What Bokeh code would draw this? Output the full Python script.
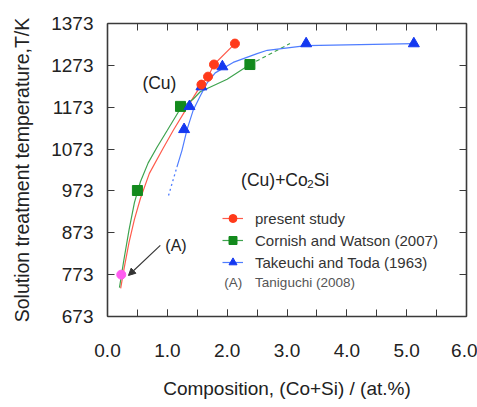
from bokeh.plotting import figure
from bokeh.models import (LinearAxis, FixedTicker, SingleIntervalTicker, NumeralTickFormatter,
                          Label, Arrow, NormalHead, Legend, LegendItem)
from bokeh.embed import file_html
from bokeh.resources import INLINE

# ---------------- data ----------------
# present study
present_x = [1.57, 1.68, 1.78, 2.13]
present_y = [1227, 1246, 1275, 1325]
present_curve_x = [0.22, 0.28, 0.36, 0.45, 0.55, 0.70, 0.93, 1.10, 1.33, 1.45, 1.57, 1.68, 1.78, 2.13]
present_curve_y = [740, 790, 850, 905, 955, 1015, 1075, 1118, 1172, 1200, 1227, 1246, 1275, 1325]

# Cornish and Watson (2007)
cornish_x = [0.50, 1.22, 2.38]
cornish_y = [974, 1175, 1275]
cornish_curve_x = [0.20, 0.27, 0.36, 0.45, 0.55, 0.68, 0.83, 1.00, 1.22, 1.43, 1.55, 2.00, 2.38]
cornish_curve_y = [742, 805, 880, 945, 995, 1040, 1078, 1118, 1170, 1192, 1210, 1240, 1275]
cornish_dash_x = [2.38, 3.05]
cornish_dash_y = [1275, 1325]

# Takeuchi and Toda (1963)
takeuchi_x = [1.28, 1.37, 1.57, 1.92, 3.32, 5.12]
takeuchi_y = [1120, 1175, 1222, 1270, 1325, 1325]
takeuchi_dot_x = [1.02, 1.16]
takeuchi_dot_y = [962, 1030]
takeuchi_curve_x = [1.16, 1.245, 1.33, 1.43, 1.55, 1.66, 1.80, 2.10, 2.50, 2.67, 3.32, 5.12]
takeuchi_curve_y = [1030, 1070, 1120, 1165, 1200, 1230, 1255, 1280, 1301, 1309, 1320, 1325]

# Taniguchi (2008)
taniguchi_x = [0.23]
taniguchi_y = [773]

y_ticks = [673, 773, 873, 973, 1073, 1173, 1273, 1373]

FONT = "Liberation Sans"
AX = "#3a3a3a"

p = figure(x_range=(0, 6), y_range=(673, 1373),
           frame_width=359, frame_height=293,
           min_border_left=107, min_border_right=11, min_border_top=23, min_border_bottom=91,
           output_backend="svg", toolbar_location=None, background_fill_color="white")
p.grid.visible = False
p.outline_line_color = None

# bottom axis
xa = p.xaxis[0]
xa.ticker = SingleIntervalTicker(interval=1, num_minor_ticks=2)
xa.formatter = NumeralTickFormatter(format="0.0")
xa.major_tick_in = 7; xa.major_tick_out = 0
xa.minor_tick_in = 7; xa.minor_tick_out = 0
xa.major_label_standoff = 27
xa.major_label_text_font = FONT
xa.major_label_text_font_size = "19px"
xa.major_label_text_color = "#222222"
xa.axis_label = "Composition, (Co+Si) / (at.%)"
xa.axis_label_text_font = FONT
xa.axis_label_text_font_style = "normal"
xa.axis_label_text_font_size = "19px"
xa.axis_label_text_color = "#222222"
xa.axis_label_standoff = 18
xa.axis_line_color = AX; xa.axis_line_width = 1.6
xa.major_tick_line_color = AX; xa.minor_tick_line_color = AX

# left axis
ya = p.yaxis[0]
ya.ticker = FixedTicker(ticks=y_ticks)
ya.major_tick_in = 7; ya.major_tick_out = 0
ya.minor_tick_line_color = None
ya.major_label_standoff = 14
ya.major_label_text_font = FONT
ya.major_label_text_font_size = "19px"
ya.major_label_text_color = "#222222"
ya.axis_label = "Solution treatment temperature,T/K"
ya.axis_label_text_font = FONT
ya.axis_label_text_font_style = "normal"
ya.axis_label_text_font_size = "19.5px"
ya.axis_label_text_color = "#222222"
ya.axis_label_standoff = 15
ya.axis_line_color = AX; ya.axis_line_width = 1.6
ya.major_tick_line_color = AX

# top and right axes (ticks only)
top = LinearAxis(ticker=SingleIntervalTicker(interval=0.5, num_minor_ticks=0))
top.major_label_overrides = {v / 2: "" for v in range(0, 13)}
right = LinearAxis(ticker=FixedTicker(ticks=y_ticks))
right.major_label_overrides = {v: "" for v in y_ticks}
for a in (top, right):
    a.major_tick_in = 7; a.major_tick_out = 0
    a.minor_tick_line_color = None
    a.major_label_standoff = 0
    a.major_label_text_font_size = "1px"
    a.axis_line_color = AX; a.axis_line_width = 1.6
    a.major_tick_line_color = AX
p.add_layout(top, "above")
p.add_layout(right, "right")

# curves
RED_L, GRN_L, BLU_L = "#ff5b4c", "#3fa34f", "#4f7dff"
r_line = p.line(present_curve_x, present_curve_y, line_color=RED_L, line_width=1.2)
g_line = p.line(cornish_curve_x, cornish_curve_y, line_color=GRN_L, line_width=1.2)
p.line(cornish_dash_x, cornish_dash_y, line_color=GRN_L, line_width=1.2, line_dash="4 3")
p.line(takeuchi_dot_x, takeuchi_dot_y, line_color=BLU_L, line_width=1.3, line_dash="2 3")
b_line = p.line(takeuchi_curve_x, takeuchi_curve_y, line_color=BLU_L, line_width=1.2)

# markers
g_pts = p.scatter(cornish_x, cornish_y, marker="square", size=10, fill_color="#138a1d",
                  line_color="#138a1d")
b_pts = p.scatter(takeuchi_x, takeuchi_y, marker="triangle", size=11, fill_color="#1438f0",
                  line_color="#1438f0")
r_pts = p.scatter(present_x, present_y, marker="circle", size=9, fill_color="#ff3a1a",
                  line_color="#ff3a1a")
p.scatter(taniguchi_x, taniguchi_y, marker="circle", size=9, fill_color="#ff5cf0",
          line_color="#ff5cf0")

# legend
leg = Legend(items=[LegendItem(label="present study", renderers=[r_line, r_pts]),
                    LegendItem(label="Cornish and Watson (2007)", renderers=[g_line, g_pts]),
                    LegendItem(label="Takeuchi and Toda (1963)", renderers=[b_line, b_pts])],
             location=(115, 44), glyph_width=21, glyph_height=20, label_height=20,
             label_standoff=12, spacing=2, padding=0, margin=0,
             border_line_color=None, background_fill_alpha=0,
             label_text_font=FONT, label_text_font_size="15px", label_text_color="#333333")
p.add_layout(leg, "center")

def lab(x, y, t, size, color="#222222", style="normal"):
    p.add_layout(Label(x=x, y=y, text=t, text_font=FONT,
                       text_font_size=size, text_color=color, text_font_style=style,
                       text_align="left", text_baseline="middle"))

lab(1.95, 754, "(A)", "13.5px", color="#555555")
lab(2.467, 754, "Taniguchi (2008)", "13.5px", color="#555555")

# region labels
lab(0.583, 1232, "(Cu)", "17.5px")
lab(2.233, 998, "(Cu)+Co", "17.5px")
lab(3.338, 989, "2", "11.5px")
lab(3.445, 998, "Si", "17.5px")

# annotation (A) with arrow
lab(0.967, 843, "(A)", "16px")
p.add_layout(Arrow(end=NormalHead(size=7, fill_color="#333333", line_color="#333333"),
                   x_start=0.883, y_start=843, x_end=0.35, y_end=771,
                   line_color="#333333", line_width=1.1))

open("out.html", "w").write(file_html(p, INLINE))
